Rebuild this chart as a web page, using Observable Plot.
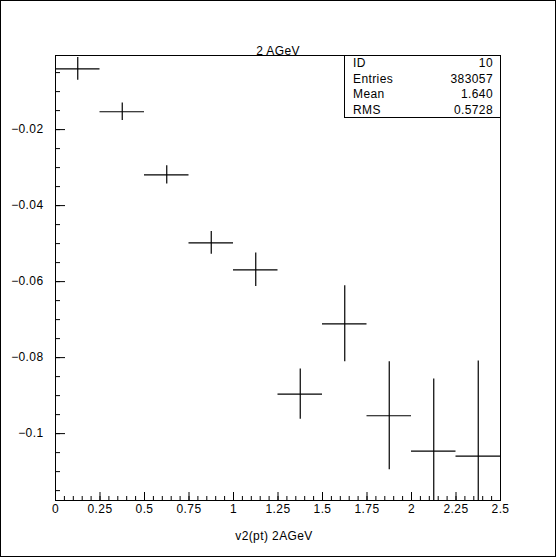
<!DOCTYPE html>
<html><head><meta charset="utf-8">
<script src="https://cdn.jsdelivr.net/npm/d3@7"></script>
<script src="https://cdn.jsdelivr.net/npm/@observablehq/plot@0.6"></script>
<style>
body{margin:0;background:#fff}
#wrap{position:relative;width:556px;height:557px;overflow:hidden}
#border{position:absolute;left:0;top:0;width:556px;height:557px;box-sizing:border-box;border:1px solid #000;pointer-events:none}
#stats{position:absolute;left:344px;top:55px;width:157px;height:63px;box-sizing:border-box;border:1px solid #000;background:#fff;font:12px "Liberation Sans",sans-serif;letter-spacing:0.4px;padding:0 7px 0 8px}
#stats .row{display:flex;justify-content:space-between;height:15.5px;line-height:15.5px}
</style></head>
<body>
<div id="wrap"><div id="chart"></div><div id="stats"></div><div id="border"></div></div>
<script>
const title = "2 AGeV";
const xLabel = "v2(pt) 2AGeV";
const binCenter = [0.125, 0.375, 0.625, 0.875, 1.125, 1.375, 1.625, 1.875, 2.125, 2.375];
const binHalfWidth = [0.125, 0.125, 0.125, 0.125, 0.125, 0.125, 0.125, 0.125, 0.125, 0.125];
const v2 = [-0.0040, -0.0153, -0.0319, -0.0498, -0.0569, -0.0896, -0.0711, -0.0953, -0.1046, -0.1059];
const err = [0.0030, 0.0023, 0.0024, 0.0030, 0.0044, 0.0066, 0.0100, 0.0142, 0.0190, 0.0250];
const xMajor = [0, 0.25, 0.5, 0.75, 1, 1.25, 1.5, 1.75, 2, 2.25, 2.5];
const yMajor = [-0.1, -0.08, -0.06, -0.04, -0.02];
const xMinor = d3.range(0, 2.5001, 0.05);
const yMinor = d3.range(-0.115, -0.0049, 0.005);
const statLabels = ["ID", "Entries", "Mean", "RMS"];
const statValues = ["10", "383057", "1.640", "0.5728"];

const data = binCenter.map((x, i) => ({x, hw: binHalfWidth[i], v: v2[i], e: err[i]}));
const fmt = d => String(+d.toFixed(4)).replace("-", "\u2212");

const chart = Plot.plot({
  width: 556, height: 557,
  marginLeft: 55, marginRight: 56, marginTop: 55, marginBottom: 57,
  style: {fontFamily: "Liberation Sans, sans-serif", fontSize: "12px", background: "#fff", color: "#000", letterSpacing: "0.4px"},
  x: {domain: [0, 2.5]},
  y: {domain: [-0.1176, -0.0005]},
  marks: [
    Plot.frame({stroke: "#000", strokeWidth: 1}),
    Plot.axisY({ticks: yMajor, tickSize: -10, text: null, label: null, strokeWidth: 1}),
    Plot.axisY({ticks: yMinor, tickSize: -5, text: null, label: null, strokeWidth: 1}),
    Plot.axisY({ticks: yMajor, tickSize: 0, tickPadding: 12, fontSize: 12, tickFormat: fmt, label: null}),
    Plot.axisX({ticks: xMajor, tickSize: -8, text: null, label: null, strokeWidth: 1}),
    Plot.axisX({ticks: xMinor, tickSize: -4, text: null, label: null, strokeWidth: 1}),
    Plot.axisX({ticks: xMajor, tickSize: 0, tickPadding: 4, fontSize: 12, tickFormat: fmt, label: null}),
    Plot.ruleY(data, {y: "v", x1: d => d.x - d.hw, x2: d => d.x + d.hw, stroke: "#000", strokeWidth: 1.2, clip: true}),
    Plot.ruleX(data, {x: "x", y1: d => d.v - d.e, y2: d => d.v + d.e, stroke: "#000", strokeWidth: 1.2, clip: true}),
    Plot.text([title], {frameAnchor: "top", dy: -9, fontSize: 12}),
    Plot.text([xLabel], {frameAnchor: "bottom", dy: 39, dx: -4, fontSize: 12})
  ]
});
document.getElementById("chart").appendChild(chart);

const stats = document.getElementById("stats");
statLabels.forEach((l, i) => {
  const r = document.createElement("div");
  r.className = "row";
  const a = document.createElement("span"); a.textContent = l;
  const b = document.createElement("span"); b.textContent = statValues[i];
  r.appendChild(a); r.appendChild(b);
  stats.appendChild(r);
});
</script>
</body></html>
